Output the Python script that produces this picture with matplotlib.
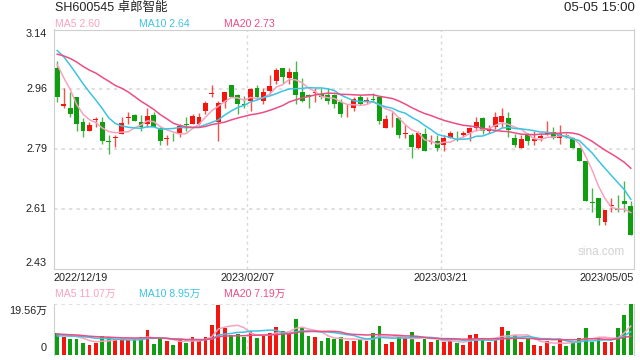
import matplotlib.pyplot as plt
import numpy as np
import pandas as pd

plt.rcParams['font.family'] = ['Liberation Sans', 'Noto Sans CJK SC', 'DejaVu Sans']

# daily k-line, 2022/12/19 .. 2023/05/05 (90 trading days), volume in 万
opens = [3.027, 2.914, 2.908, 2.938, 2.866, 2.839, 2.871, 2.866, 2.808, 2.817,
         2.829, 2.876, 2.887, 2.866, 2.859, 2.887, 2.847, 2.816, 2.818, 2.832,
         2.857, 2.859, 2.860, 2.898, 2.949, 2.866, 2.926, 2.975, 2.945, 2.920,
         2.928, 2.967, 2.928, 2.956, 2.988, 3.027, 2.997, 3.015, 2.955, 2.946,
         2.950, 2.947, 2.946, 2.946, 2.926, 2.912, 2.908, 2.938, 2.925, 2.933,
         2.938, 2.847, 2.885, 2.877, 2.831, 2.827, 2.788, 2.829, 2.807, 2.808,
         2.798, 2.818, 2.828, 2.827, 2.832, 2.847, 2.877, 2.839, 2.849, 2.864,
         2.877, 2.817, 2.788, 2.829, 2.810, 2.818, 2.831, 2.836, 2.818, 2.826,
         2.817, 2.787, 2.749, 2.628, 2.640, 2.568, 2.616, 2.608, 2.630, 2.617]
closes = [2.938, 2.918, 2.889, 2.859, 2.839, 2.855, 2.874, 2.810, 2.806, 2.822,
          2.863, 2.880, 2.868, 2.849, 2.884, 2.849, 2.808, 2.819, 2.817, 2.854,
          2.856, 2.884, 2.881, 2.922, 2.952, 2.922, 2.953, 2.940, 2.918, 2.917,
          2.962, 2.938, 2.953, 2.972, 3.020, 2.999, 3.015, 2.946, 2.928, 2.940,
          2.953, 2.938, 2.928, 2.918, 2.889, 2.914, 2.933, 2.918, 2.931, 2.931,
          2.867, 2.873, 2.887, 2.827, 2.833, 2.790, 2.833, 2.778, 2.809, 2.788,
          2.818, 2.833, 2.826, 2.833, 2.847, 2.864, 2.839, 2.846, 2.881, 2.884,
          2.841, 2.798, 2.814, 2.810, 2.816, 2.825, 2.833, 2.818, 2.829, 2.820,
          2.788, 2.749, 2.630, 2.625, 2.580, 2.605, 2.618, 2.605, 2.622, 2.531]
highs = [3.046, 2.967, 2.955, 2.938, 2.877, 2.866, 2.879, 2.879, 2.828, 2.828,
         2.879, 2.896, 2.889, 2.887, 2.908, 2.894, 2.849, 2.828, 2.832, 2.859,
         2.879, 2.889, 2.893, 2.927, 2.975, 2.927, 2.955, 2.975, 2.948, 2.943,
         2.967, 2.975, 2.967, 3.005, 3.027, 3.027, 3.027, 3.046, 2.997, 2.948,
         2.967, 2.965, 2.965, 2.948, 2.935, 2.918, 2.938, 2.945, 2.938, 2.952,
         2.940, 2.887, 2.896, 2.879, 2.857, 2.834, 2.837, 2.847, 2.828, 2.828,
         2.828, 2.837, 2.837, 2.839, 2.849, 2.879, 2.879, 2.856, 2.896, 2.908,
         2.896, 2.829, 2.828, 2.834, 2.837, 2.834, 2.867, 2.849, 2.857, 2.834,
         2.820, 2.788, 2.749, 2.668, 2.640, 2.605, 2.638, 2.648, 2.689, 2.630]
lows = [2.926, 2.906, 2.879, 2.839, 2.820, 2.839, 2.849, 2.800, 2.770, 2.790,
        2.829, 2.859, 2.868, 2.839, 2.849, 2.849, 2.798, 2.798, 2.808, 2.820,
        2.839, 2.859, 2.856, 2.890, 2.938, 2.809, 2.908, 2.938, 2.889, 2.908,
        2.898, 2.933, 2.918, 2.948, 2.978, 2.980, 2.978, 2.918, 2.926, 2.908,
        2.926, 2.935, 2.918, 2.906, 2.879, 2.879, 2.898, 2.916, 2.918, 2.925,
        2.859, 2.847, 2.849, 2.818, 2.818, 2.758, 2.785, 2.778, 2.799, 2.778,
        2.778, 2.818, 2.808, 2.820, 2.808, 2.839, 2.829, 2.834, 2.844, 2.849,
        2.820, 2.790, 2.788, 2.798, 2.798, 2.810, 2.827, 2.815, 2.800, 2.818,
        2.788, 2.749, 2.630, 2.598, 2.558, 2.560, 2.598, 2.598, 2.598, 2.531]
volumes = [8.4, 6.8, 6.2, 6.2, 4.6, 3.9, 4.6, 7.3, 6.8, 6.2,
           6.2, 5.8, 6.2, 6.8, 9.65, 4.2, 6.4, 5.4, 3.9, 6.2,
           4.6, 6.8, 5.4, 6.8, 11.6, 19.3, 10.4, 7.6, 8.1, 6.9,
           9.1, 6.7, 7.3, 8.5, 10.9, 9.3, 8.5, 13.9, 10.7, 7.3,
           6.9, 5.5, 6.6, 6.2, 6.9, 5.5, 5.5, 5.8, 5.5, 8.6,
           11.2, 4.4, 4.8, 6.9, 6.6, 8.9, 4.8, 6.2, 5.1, 5.8,
           4.8, 5.5, 4.6, 4.0, 7.7, 8.1, 6.0, 4.8, 5.8, 10.8,
           9.2, 7.7, 4.8, 6.2, 4.0, 3.6, 5.5, 3.6, 6.2, 3.6,
           5.0, 6.6, 10.5, 5.1, 6.9, 5.1, 4.8, 10.5, 15.4, 19.56]

# sessions before the window, only used to warm up the moving averages
pre_closes = [3.02, 3.04, 3.07, 3.10, 3.08, 3.05, 3.06, 3.04, 3.07, 3.03,
              3.10, 3.14, 3.13, 3.12, 3.105, 3.113, 3.062, 3.081, 2.986]
pre_volumes = [8.2, 9.4, 8.1, 9.0, 8.8, 7.9, 9.6, 8.5, 8.9, 8.6,
               6.4, 7.1, 6.2, 6.9, 6.4, 8.3, 7.6, 7.9, 7.8]

date_labels = ['2022/12/19', '2023/02/07', '2023/03/21', '2023/05/05']
price_labels = ['3.14', '2.96', '2.79', '2.61', '2.43']
vol_labels = ['19.56万', '0']
ma_windows = [5, 10, 20]
ma_colors = ['#f7a3c0', '#3cc4e2', '#ec4d84']
up_color = '#f2160f'
down_color = '#0f9e10'
grid_color = '#d9d9d9'
border_color = '#cfcfcf'


def moving_avg(pre, vals, n):
    s = pd.Series(list(pre) + list(vals)).rolling(n).mean().values
    return s[len(pre):]


o = np.array(opens)
c = np.array(closes)
h = np.array(highs)
l = np.array(lows)
v = np.array(volumes)
x = np.arange(len(c))
colors = np.where(c >= o, up_color, down_color)

fig = plt.figure(figsize=(6.4, 3.6), dpi=100)
W, H = 640.0, 360.0
ax = fig.add_axes([54 / W, 1 - 268.5 / H, 580 / W, 239 / H])
axv = fig.add_axes([54 / W, 1 - 355 / H, 580 / W, 51 / H])

# price panel
ax.vlines(x, l, h, colors=colors, lw=1, alpha=0.75, zorder=3)
body_lo = np.minimum(o, c)
body_h = np.maximum(np.abs(c - o), 0.002)
ax.bar(x, body_h, bottom=body_lo, width=0.75, color=colors, lw=0, zorder=4)

price_ma = []
for n, col in zip(ma_windows, ma_colors):
    m = moving_avg(pre_closes, closes, n)
    price_ma.append(m[-1])
    ax.plot(x, m, color=col, lw=1.1, zorder=5)

ymax, ymin = 3.14, 2.43
ax.set_xlim(-0.5, len(c) - 0.5)
ax.set_ylim(ymin, ymax)
levels = np.linspace(ymax, ymin, len(price_labels))
for yv in levels[1:-1]:
    ax.axhline(yv, color=grid_color, lw=1.2, ls=(0, (2, 2.5)), zorder=1)
for xv in [len(c) / 3 - 0.5, 2 * len(c) / 3 - 0.5]:
    ax.axvline(xv, color=grid_color, lw=1, ls=(0, (2, 2.5)), zorder=1)
    axv.axvline(xv, color=grid_color, lw=1, ls=(0, (2, 2.5)), zorder=1)
ax.set_xticks([])
ax.set_yticks([])
for sp in ax.spines.values():
    sp.set_color(border_color)

for i, (yv, lab) in enumerate(zip(levels, price_labels)):
    va = 'top' if i == 0 else ('bottom' if i == len(levels) - 1 else 'center')
    ax.text(-0.012, yv, lab, transform=ax.get_yaxis_transform(), ha='right', va=va,
            fontsize=7.8, color='#222222')

ax.text(0.985, 0.07, 'sina.com', transform=ax.transAxes, ha='right', va='center',
        fontsize=8.5, color='#d2d2d2')

# volume panel
axv.bar(x, v, width=0.6, color=colors, lw=0, zorder=3)
vol_ma = []
for n, col in zip(ma_windows, ma_colors):
    m = moving_avg(pre_volumes, volumes, n)
    vol_ma.append(m[-1])
    axv.plot(x, m, color=col, lw=1.1, zorder=4)
axv.set_xlim(-0.5, len(c) - 0.5)
vmax = max(volumes)
axv.set_ylim(0, vmax)
axv.axhline(vmax, color=grid_color, lw=1.2, ls=(0, (2, 2.5)), zorder=1)
axv.set_xticks([])
axv.set_yticks([])
axv.spines['top'].set_visible(False)
axv.spines['bottom'].set_visible(False)
axv.spines['left'].set_color(border_color)
axv.spines['right'].set_color(border_color)
axv.text(-0.012, 0.86, vol_labels[0], transform=axv.transAxes, ha='right', va='center',
         fontsize=7.8, color='#222222')
axv.text(-0.012, 0.14, vol_labels[1], transform=axv.transAxes, ha='right', va='center',
         fontsize=7.8, color='#222222')

# header texts
fig.text(55 / W, 1 - 8 / H, 'SH600545 卓郎智能', ha='left', va='center', fontsize=9,
         color='#222222')
fig.text(635 / W, 1 - 8 / H, '05-05 15:00', ha='right', va='center', fontsize=9.5,
         color='#222222')
leg_x = [55, 139, 224]
for lx, n, col, val in zip(leg_x, ma_windows, ma_colors, price_ma):
    fig.text(lx / W, 1 - 24 / H, 'MA%d %.2f' % (n, val), ha='left', va='center',
             fontsize=7.6, color=col)
for lx, n, col, val in zip(leg_x, ma_windows, ma_colors, vol_ma):
    fig.text(lx / W, 1 - 294 / H, 'MA%d %.2f万' % (n, val), ha='left', va='center',
             fontsize=7.6, color=col)

# date row
date_pos = [0.0, 1 / 3, 2 / 3, 1.0]
date_ha = ['left', 'center', 'center', 'right']
for p, lab, ha in zip(date_pos, date_labels, date_ha):
    fig.text((54 + 580 * p) / W, 1 - 278 / H, lab, ha=ha, va='center', fontsize=7.8,
             color='#222222')

fig.savefig('out.png', dpi=100)
plt.close(fig)
